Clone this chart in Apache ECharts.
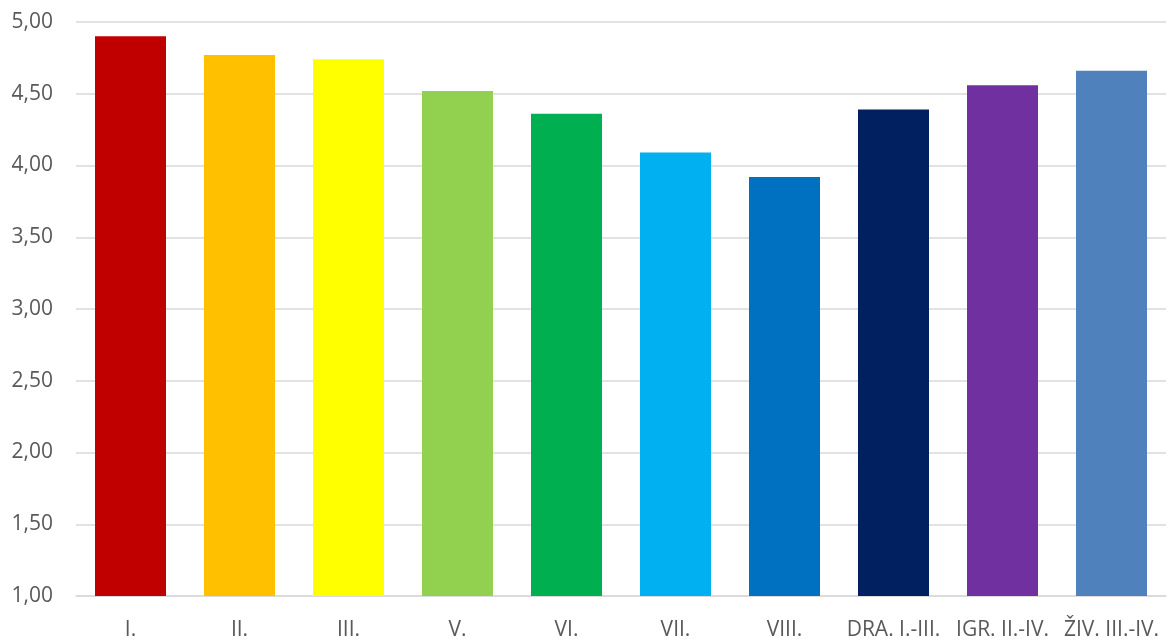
<!DOCTYPE html>
<html>
<head>
<meta charset="utf-8">
<script src="https://cdn.jsdelivr.net/npm/echarts@6/dist/echarts.min.js"></script>
<style>
  html, body { margin: 0; padding: 0; background: #fff; }
  #chart { width: 1168px; height: 641px; }
</style>
</head>
<body>
<div id="chart"></div>
<script>
// razredi i prosjecne ocjene
const categories = ['I.', 'II.', 'III.', 'V.', 'VI.', 'VII.', 'VIII.', 'DRA. I.-III.', 'IGR. II.-IV.', 'ŽIV. III.-IV.'];
const values = [4.90, 4.77, 4.74, 4.52, 4.36, 4.09, 3.92, 4.39, 4.56, 4.66];
const colors = ['#C00000', '#FFC000', '#FFFF00', '#92D050', '#00B050', '#00B0F0', '#0070C0', '#002060', '#7030A0', '#4F81BD'];

const chart = echarts.init(document.getElementById('chart'));

const option = {
    animation: false,
    grid: { left: 76, right: 2, top: 22, bottom: 44, containLabel: false },
    xAxis: {
        type: 'category',
        data: categories,
        axisLine: { lineStyle: { color: '#d9d9d9', width: 1.5 } },
        axisTick: { show: false },
        axisLabel: { color: '#595959', fontSize: 21, fontFamily: 'Open Sans', margin: 24, interval: 0 }
    },
    yAxis: {
        type: 'value',
        min: 1,
        max: 5,
        interval: 0.5,
        axisLine: { show: false },
        axisTick: { show: false },
        splitLine: { lineStyle: { color: '#d9d9d9', width: 1.5 } },
        axisLabel: {
            color: '#595959', fontSize: 21, fontFamily: 'Open Sans', margin: 23,
            formatter: v => v.toFixed(2).replace('.', ',')
        }
    },
    series: [{
        type: 'bar',
        barWidth: 71,
        data: values.map((v, i) => ({ value: v, itemStyle: { color: colors[i] } }))
    }]
};

chart.setOption(option);
</script>
</body>
</html>
